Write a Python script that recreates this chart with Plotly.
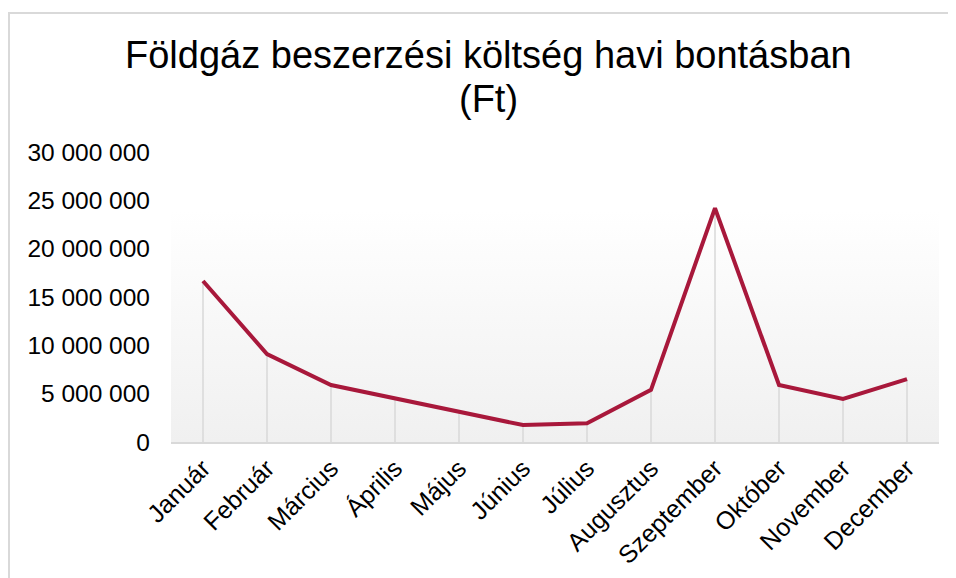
import plotly.graph_objects as go

months = ["Január", "Február", "Március", "Április", "Május", "Június",
          "Július", "Augusztus", "Szeptember", "Október", "November", "December"]
costs = [16650000, 9100000, 5900000, 4550000, 3200000, 1750000,
         1950000, 5400000, 24200000, 5900000, 4450000, 6500000]
y_ticks = [0, 5000000, 10000000, 15000000, 20000000, 25000000, 30000000]
y_tick_labels = ["0", "5 000 000", "10 000 000", "15 000 000", "20 000 000",
                 "25 000 000", "30 000 000"]
title_lines = ["Földgáz beszerzési költség havi bontásban", "(Ft)"]

idx = list(range(len(months)))
FONT = "Liberation Sans, Arial, sans-serif"

# page has an 8px body margin; work in figure pixels
OFF = 8
W, H = 956 - OFF, 578 - OFF
L, R, T, B = 171 - OFF, 939 - OFF, 152 - OFF, 442 - OFF
PW, PH = R - L, B - T

def px(x):
    return (x - OFF - L) / PW

def py(y):
    return (B - (y - OFF)) / PH

fig = go.Figure()

# gradient plot-area background
fig.add_trace(go.Scatter(
    x=[-0.5, len(months) - 0.5, len(months) - 0.5, -0.5, -0.5],
    y=[0, 0, y_ticks[-1], y_ticks[-1], 0],
    mode="lines", line=dict(width=0), fill="toself",
    fillgradient=dict(type="vertical",
                      colorscale=[[0, "#f0f0f0"], [0.8, "#ffffff"], [1, "#ffffff"]]),
    hoverinfo="skip", showlegend=False))

# drop lines
dx, dy = [], []
for i, v in zip(idx, costs):
    dx += [i, i, None]
    dy += [0, v, None]
fig.add_trace(go.Scatter(x=dx, y=dy, mode="lines",
                         line=dict(color="#d9d9d9", width=1.5),
                         hoverinfo="skip", showlegend=False))

fig.add_trace(go.Scatter(x=idx, y=costs, mode="lines",
                         line=dict(color="#A8183B", width=4),
                         showlegend=False))

annotations = []
for text, ypix in zip(title_lines, [55, 99]):
    annotations.append(dict(text=text, xref="paper", yref="paper",
                            x=px(488), y=py(ypix), xanchor="center", yanchor="middle",
                            showarrow=False,
                            font=dict(size=38, family=FONT, color="#000000")))

fig.update_layout(
    width=W, height=H,
    margin=dict(l=L, r=W - R, t=T, b=H - B),
    paper_bgcolor="white", plot_bgcolor="white",
    font=dict(family=FONT, color="#000000"),
    annotations=annotations,
    xaxis=dict(range=[-0.5, len(months) - 0.5], tickmode="array",
               tickvals=idx, ticktext=months, tickangle=-45,
               showgrid=False, zeroline=False, showline=True,
               linecolor="#d9d9d9", linewidth=1.5, automargin=False,
               tickfont=dict(size=25, family=FONT, color="#000000"),
               ticks="", fixedrange=True),
    yaxis=dict(range=[0, y_ticks[-1]], tickmode="array",
               tickvals=y_ticks, ticktext=y_tick_labels,
               showgrid=False, zeroline=False, showline=False, automargin=False,
               tickfont=dict(size=24.5, family=FONT, color="#000000"),
               ticks="", ticklabelstandoff=20, fixedrange=True),
    shapes=[dict(type="rect", xref="paper", yref="paper",
                 x0=px(9), x1=px(975), y0=py(600), y1=py(13),
                 line=dict(color="#d9d9d9", width=2), fillcolor="rgba(0,0,0,0)",
                 layer="below")],
)

fig.write_html("out.html", config={"displayModeBar": False},
               post_script="document.documentElement.style.overflow='hidden';"
                           "document.body.style.overflow='hidden';")
